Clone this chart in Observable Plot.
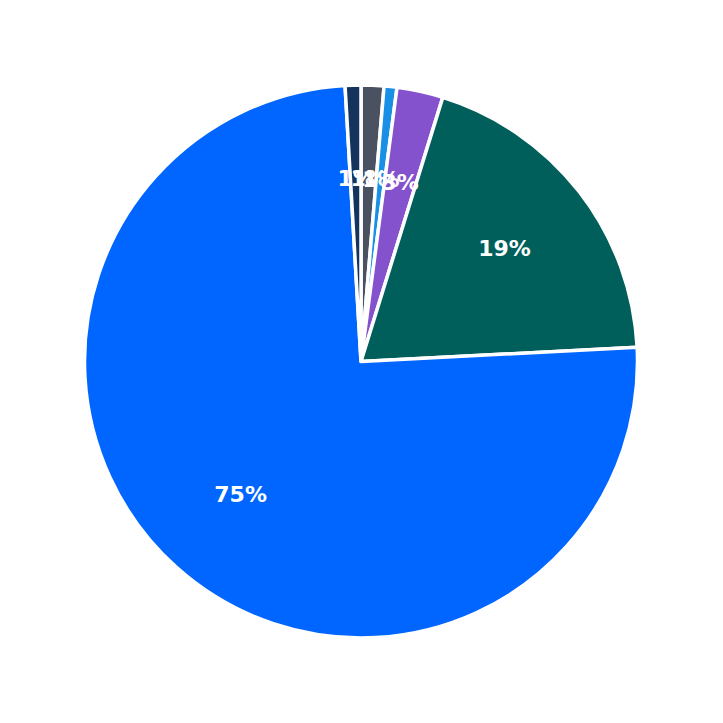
<!DOCTYPE html>
<html>
<head>
<meta charset="utf-8">
<script src="https://cdn.jsdelivr.net/npm/d3@7"></script>
<script src="https://cdn.jsdelivr.net/npm/@observablehq/plot@0.6"></script>
<style>
  html, body { margin: 0; padding: 0; background: #ffffff; }
  #chart { width: 723px; height: 723px; }
</style>
</head>
<body>
<div id="chart"></div>
<script>
// Slices, clockwise from 12 o'clock
const categories = ["A", "B", "C", "D", "E", "F"];
const values = [1.33, 0.75, 2.7, 19.4, 74.9, 0.92];
const colors = ["#4a5262", "#1a8fe6", "#8452cc", "#005f5b", "#0066ff", "#14345e"];

const W = 723, H = 723;
const cx = 361, cy = 361.5, R = 276.5;

const pie = d3.pie().sort(null).value(d => d.value);
const total = d3.sum(values);
const data = categories.map((c, i) => ({category: c, value: values[i], color: colors[i]}));
const arcs = pie(data);

// label positions in data units (unit circle), at 0.65 of radius
const labelR = 0.655;
const labels = arcs.map(a => {
  const mid = (a.startAngle + a.endAngle) / 2;
  return {
    x: labelR * Math.sin(mid),
    y: labelR * Math.cos(mid),
    text: Math.round(a.data.value / total * 100) + "%"
  };
});

// scales: 1 data unit = R px, centre at (cx, cy)
const xDomain = [-cx / R, (W - cx) / R];
const yDomain = [-(H - cy) / R, cy / R];

const sliceMark = (index, scales, values, dimensions) => {
  const ox = scales.x(0), oy = scales.y(0);
  const rad = scales.x(1) - scales.x(0);
  const arcGen = d3.arc().innerRadius(0).outerRadius(rad);
  const g = d3.create("svg:g");
  g.selectAll("path")
    .data(arcs)
    .join("path")
    .attr("transform", `translate(${ox},${oy})`)
    .attr("d", arcGen)
    .attr("fill", d => d.data.color)
    .attr("stroke", "#ffffff")
    .attr("stroke-width", 3.5)
    .attr("stroke-linejoin", "round");
  return g.node();
};

const chart = Plot.plot({
  width: W,
  height: H,
  margin: 0,
  x: {domain: xDomain, range: [0, W], axis: null},
  y: {domain: yDomain, range: [H, 0], axis: null},
  style: {background: "#ffffff"},
  marks: [
    sliceMark,
    Plot.text(labels, {
      x: "x", y: "y", text: "text",
      fill: "#ffffff",
      fontSize: 22,
      fontWeight: "bold",
      fontFamily: "DejaVu Sans",
      textAnchor: "middle",
      dy: -2
    })
  ]
});

document.getElementById("chart").appendChild(chart);
</script>
</body>
</html>
